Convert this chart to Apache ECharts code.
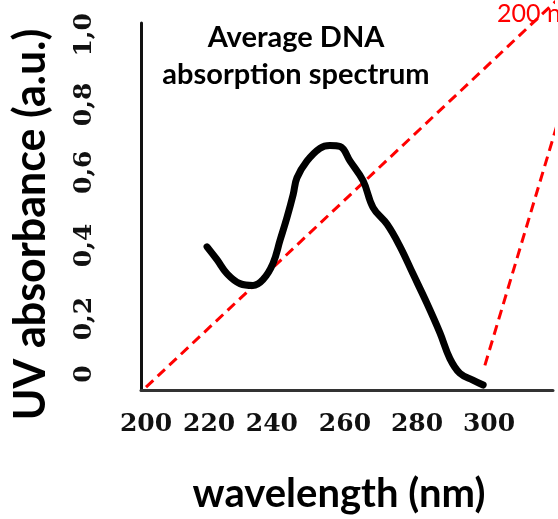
<!DOCTYPE html>
<html><head><meta charset="utf-8">
<script src="https://cdn.jsdelivr.net/npm/echarts@6/dist/echarts.min.js"></script>
<style>html,body{margin:0;padding:0;background:#fff}#c{width:558px;height:519px}</style>
</head><body><div id="c"></div>
<script>
// Spectrum trace (wavelength nm, absorbance a.u.)
var wavelength = [217.8,220.7,223.6,227.4,231.2,234.1,237.0,239.1,241.1,242.9,244.0,246.9,250.7,253.6,256.6,259.5,263.3,266.2,270.3,274.1,277.8,281.9,285.7,288.6,291.5,295.3,298.3];
var absorbance = [0.401,0.365,0.326,0.298,0.293,0.309,0.354,0.420,0.483,0.547,0.594,0.641,0.677,0.685,0.682,0.641,0.586,0.511,0.464,0.401,0.326,0.243,0.160,0.088,0.047,0.028,0.014];
// x tick labels and where they are drawn
var xTickLabels = ['200','220','240','260','280','300'];
var xTickPos = [200, 218.4, 236.7, 258.0, 279.0, 300];
// y tick labels and where they are drawn
var yTickLabels = ['0','0,2','0,4','0,6','0,8','1,0'];
var yTickPos = [0.045, 0.2, 0.405, 0.61, 0.8, 0.995];
// red dashed zoom guide lines
var guide1X = [200, 320.7], guide1Y = [0.008, 1.10];
var guide2X = [298.8, 320.7], guide2Y = [0.069, 0.77];

function pairs(xs, ys){ return xs.map(function(x,i){ return [x, ys[i]]; }); }

var chart = echarts.init(document.getElementById('c'), null, {renderer:'canvas'});
var serif = 'DejaVu Serif';
var sans = 'Lato';
chart.setOption({
  animation:false,
  backgroundColor:'#fff',
  grid:{left:141, right:5, top:23, bottom:124, containLabel:false},
  xAxis:{
    type:'value', min:198.54, max:318.66,
    name:'wavelength (nm)', nameLocation:'middle', nameGap:84,
    nameTextStyle:{fontFamily:sans, fontWeight:'bold', fontSize:40, color:'#000', padding:[0,16,0,0]},
    axisLine:{show:true, onZero:false, lineStyle:{color:'#333', width:3}},
    axisTick:{show:false},
    splitLine:{show:false},
    axisLabel:{
      customValues:xTickPos, margin:22,
      fontFamily:serif, fontWeight:'bold', fontSize:25, color:'#111',
      formatter:function(v){ var i = xTickPos.indexOf(v); return i>=0 ? xTickLabels[i] : ''; }
    }
  },
  yAxis:{
    type:'value', min:0, max:1.028,
    name:'UV absorbance (a.u.)', nameLocation:'middle', nameGap:88, nameRotate:90,
    nameTextStyle:{fontFamily:sans, fontWeight:'bold', fontSize:43, color:'#000', padding:[0,36,0,0]},
    axisLine:{show:true, onZero:false, lineStyle:{color:'#111', width:3}},
    axisTick:{show:false},
    splitLine:{show:false},
    axisLabel:{
      customValues:yTickPos, rotate:90, margin:44,
      fontFamily:serif, fontWeight:'bold', fontSize:25, color:'#111',
      formatter:function(v){ var i = yTickPos.indexOf(v); return i>=0 ? yTickLabels[i] : ''; }
    }
  },
  series:[
    {type:'line', data:pairs(guide1X, guide1Y), clip:false, showSymbol:false, silent:true,
     lineStyle:{color:'#ff0000', width:3, type:[10,6]}},
    {type:'line', data:pairs(guide2X, guide2Y), clip:false, showSymbol:false, silent:true,
     lineStyle:{color:'#ff0000', width:3, type:[10,6]}},
    {type:'line', data:pairs(wavelength, absorbance), smooth:0.4, showSymbol:false, clip:false,
     lineStyle:{color:'#000', width:7, cap:'round', join:'round'}}
  ],
  graphic:[
    {type:'text', x:296, y:56, style:{text:'Average DNA\nabsorption spectrum', fill:'#000',
      font:'bold 29px Lato', textAlign:'center', textVerticalAlign:'middle', lineHeight:37}},
    {type:'text', x:497, y:14, style:{text:'200 nm', fill:'#ff0000',
      font:'25px Lato', textAlign:'left', textVerticalAlign:'middle'}}
  ]
});
</script></body></html>
